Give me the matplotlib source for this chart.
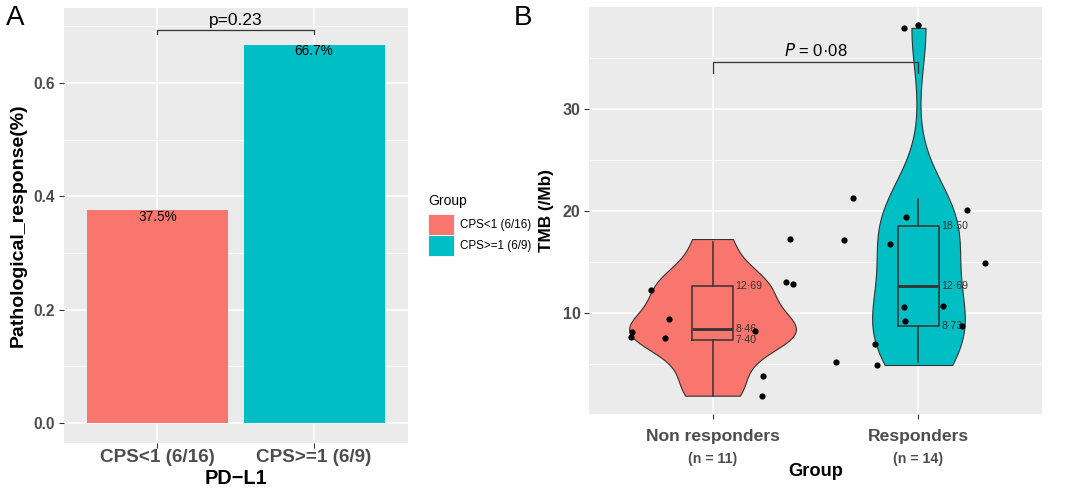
import numpy as np
import matplotlib
matplotlib.use("Agg")
import matplotlib.pyplot as plt
from matplotlib.patches import Patch
from matplotlib.ticker import MultipleLocator

plt.rcParams['font.family'] = ['Liberation Sans', 'DejaVu Sans']

# ---- panel A data
groups_a = ["CPS<1 (6/16)", "CPS>=1 (6/9)"]
response = [0.375, 0.667]
response_lbl = ["37.5%", "66.7%"]
p_a = "p=0.23"
p_a_y = 0.694

# ---- panel B data
groups_b = ["Non responders", "Responders"]
n_b = ["(n = 11)", "(n = 14)"]
nr_tmb = [12.28, 9.41, 8.20, 7.71, 7.62, 8.30, 13.09, 12.83, 3.87, 1.95, 17.26]
nr_jit = [-0.30, -0.21, -0.39, -0.395, -0.23, 0.205, 0.355, 0.39, 0.245, 0.24, 0.375]
r_tmb = [21.24, 17.17, 5.27, 7.00, 4.95, 19.44, 16.74, 10.59, 9.25, 10.74, 8.79, 20.10, 14.95, 37.9]
r_jit = [-0.32, -0.36, -0.40, -0.21, -0.20, -0.06, -0.14, -0.07, -0.065, 0.12, 0.21, 0.235, 0.325, -0.07]
box_q1 = [7.40, 8.73]
box_med = [8.46, 12.69]
box_q3 = [12.69, 18.50]
whisk_lo = [1.95, 5.27]
whisk_hi = [17.0, 21.14]
outliers = [[], [38.18]]
p_b = "0·08"
p_b_y = 34.6

pal = ['#F8766D', '#00BFC4']
grey_txt = '#4D4D4D'
panel_bg = '#EBEBEB'


def gg_axes(ax):
    ax.set_facecolor(panel_bg)
    for s in ax.spines.values():
        s.set_visible(False)
    ax.set_axisbelow(True)
    ax.grid(which='major', color='white', lw=1.1)
    ax.grid(which='minor', axis='y', color='white', lw=0.55)
    ax.tick_params(which='major', length=3.5, width=0.8, color='#333333')
    ax.tick_params(which='minor', length=0)


def nrd0(kde):
    d = kde.dataset.ravel()
    sd = d.std(ddof=1)
    iqr = np.subtract(*np.percentile(d, [75, 25]))
    h = 0.9 * min(sd, iqr / 1.34) * len(d) ** -0.2
    return h / sd


fig = plt.figure(figsize=(10.8, 4.92), dpi=100)
W, H = 1080, 492

# ================= panel A
axA = fig.add_axes([63.5 / W, 1 - 443 / H, 344.5 / W, 435 / H])
gg_axes(axA)
xa = np.arange(1, len(groups_a) + 1)
axA.bar(xa, response, width=0.9, color=pal, zorder=2)
for x, v, t in zip(xa, response, response_lbl):
    axA.text(x, v - 0.011, t, ha='center', va='center', fontsize=9.8, color='black', zorder=3)
axA.plot([xa[0], xa[0], xa[1], xa[1]], [p_a_y - 0.007, p_a_y, p_a_y, p_a_y - 0.007],
         color='#333333', lw=0.9, zorder=3)
axA.text(xa.mean(), p_a_y + 0.003, p_a, ha='center', va='bottom', fontsize=12.5)
axA.set_xlim(0.4, 2.6)
axA.set_ylim(-0.035, 0.732)
axA.set_xticks(xa)
axA.set_xticklabels(groups_a)
axA.yaxis.set_major_locator(MultipleLocator(0.2))
axA.yaxis.set_minor_locator(MultipleLocator(0.1))
axA.yaxis.set_major_formatter(matplotlib.ticker.FormatStrFormatter('%.1f'))
axA.tick_params(axis='x', labelsize=13.6, labelcolor=grey_txt, pad=0.8)
axA.tick_params(axis='y', labelsize=11.2, labelcolor=grey_txt, pad=2.5)
for lbl in axA.get_xticklabels() + axA.get_yticklabels():
    lbl.set_fontweight('bold')
axA.set_xlabel("PD\u2212L1", fontsize=14.4, fontweight='bold')
axA.xaxis.set_label_coords(0.5, (443 - 478) / 435)
axA.xaxis.label.set_verticalalignment('center')
axA.set_ylabel("Pathological_response(%)", fontsize=14, fontweight='bold')
axA.yaxis.set_label_coords((18 - 63.5) / 344.5, 0.5)
axA.yaxis.label.set_verticalalignment('center')

handles = [Patch(facecolor=c, edgecolor='white', lw=0.6) for c in pal]
leg = fig.legend(handles, groups_a, title='Group', loc='upper left',
                 bbox_to_anchor=(428 / W, 1 - 194 / H), frameon=False,
                 fontsize=8.4, title_fontsize=10, alignment='left',
                 handlelength=2.2, handleheight=2.4, handletextpad=0.5,
                 labelspacing=0.0, borderpad=0, borderaxespad=0)
leg._legend_box.sep = 4

fig.text(15 / W, 1 - 18 / H, "A", fontsize=20, ha='center', va='center')
fig.text(523 / W, 1 - 18 / H, "B", fontsize=20, ha='center', va='center')

# ================= panel B
axB = fig.add_axes([589 / W, 1 - 414 / H, 453 / W, 407.3 / H])
gg_axes(axB)
xb = np.arange(1, len(groups_b) + 1)
parts = axB.violinplot([nr_tmb, r_tmb], positions=xb, widths=[0.81, 0.45],
                       showextrema=False, bw_method=nrd0)
for body, c in zip(parts['bodies'], pal):
    body.set_facecolor(c)
    body.set_edgecolor('#333333')
    body.set_alpha(1)
    body.set_linewidth(0.8)
    body.set_zorder(2)

stats = []
for i in range(len(groups_b)):
    stats.append(dict(med=box_med[i], q1=box_q1[i], q3=box_q3[i],
                      whislo=whisk_lo[i], whishi=whisk_hi[i], fliers=outliers[i]))
axB.bxp(stats, positions=xb, widths=0.2, showcaps=False, showfliers=True,
        boxprops=dict(color='#333333', lw=1.1),
        whiskerprops=dict(color='#333333', lw=1.1),
        medianprops=dict(color='#333333', lw=2.0),
        flierprops=dict(marker='o', markerfacecolor='black', markeredgecolor='none',
                        markersize=4.6),
        zorder=3, manage_ticks=False)

for i in range(len(groups_b)):
    for v in (box_q3[i], box_med[i], box_q1[i]):
        axB.text(xb[i] + 0.11, v, f"{v:.2f}".replace('.', '\u00b7'),
                 ha='left', va='center', fontsize=7.6, color='#333333', zorder=4)

axB.scatter(xb[0] + np.array(nr_jit), nr_tmb, s=20, c='black', lw=0, zorder=5)
axB.scatter(xb[1] + np.array(r_jit), r_tmb, s=20, c='black', lw=0, zorder=5)

axB.plot([xb[0], xb[0], xb[1], xb[1]], [p_b_y - 1.1, p_b_y, p_b_y, p_b_y - 1.1],
         color='#333333', lw=0.9, zorder=3)
axB.text(xb.mean(), p_b_y + 0.25, r"$\it{P}$ = " + p_b, ha='center', va='bottom',
         fontsize=12)

axB.set_xlim(0.4, 2.6)
axB.set_ylim(0.16, 39.97)
axB.set_xticks(xb)
axB.set_xticklabels(groups_b)
axB.set_yticks([10, 20, 30])
axB.yaxis.set_minor_locator(MultipleLocator(5))
axB.tick_params(axis='x', labelsize=12.6, labelcolor=grey_txt, pad=7.5)
axB.tick_params(axis='y', labelsize=11.5, labelcolor=grey_txt, pad=2.5)
for lbl in axB.get_xticklabels() + axB.get_yticklabels():
    lbl.set_fontweight('bold')
for x, t in zip(xb, n_b):
    axB.text(x, (414 - 458.5) / 407.3, t, transform=axB.get_xaxis_transform(),
             ha='center', va='center', fontsize=10.2, fontweight='bold', color=grey_txt)
axB.set_xlabel("Group", fontsize=13.2, fontweight='bold')
axB.xaxis.set_label_coords(0.5, (414 - 471) / 407.3)
axB.xaxis.label.set_verticalalignment('center')
axB.set_ylabel("TMB (/Mb)", fontsize=12.4, fontweight='bold')
axB.yaxis.set_label_coords((547 - 589) / 453, 0.5)
axB.yaxis.label.set_verticalalignment('center')

fig.savefig("out.png", dpi=100)
